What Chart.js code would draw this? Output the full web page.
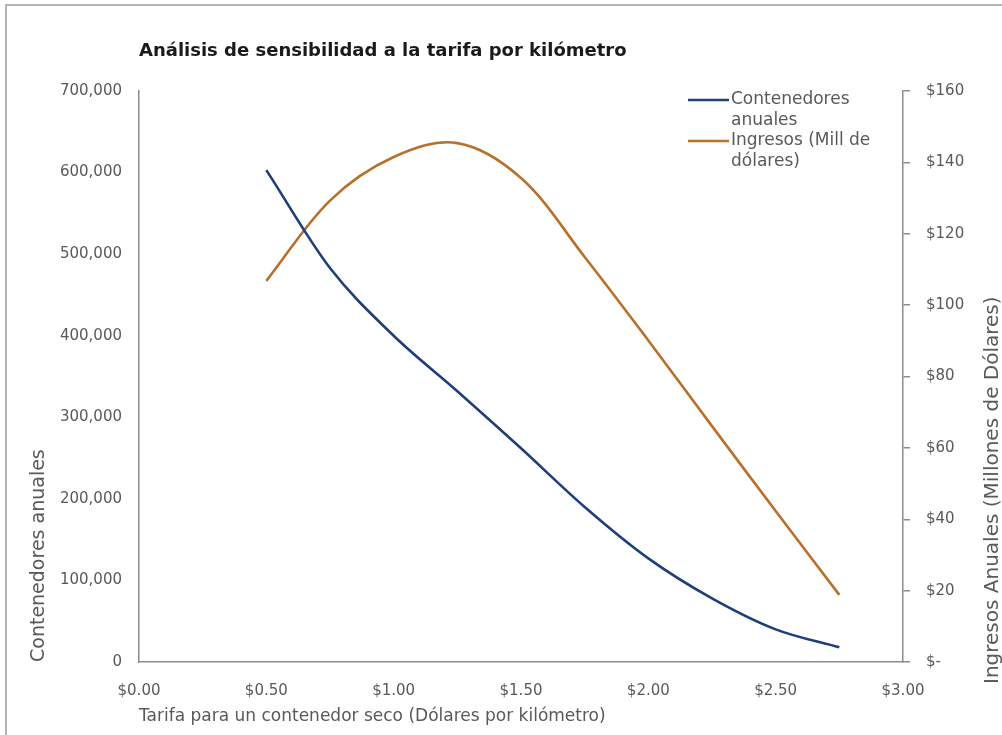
<!DOCTYPE html>
<html>
<head>
<meta charset="utf-8">
<script src="https://cdn.jsdelivr.net/npm/chart.js@4.4.1/dist/chart.umd.min.js"></script>
<style>
  html, body { margin: 0; padding: 0; background: #fff; overflow: hidden; }
  #wrap { position: relative; width: 1002px; height: 735px; overflow: hidden; }
  #frameTop { position: absolute; left: 5px; top: 4px; width: 997px; height: 2px; background: #b4b4b4; }
  #frameLeft { position: absolute; left: 5px; top: 4px; width: 2px; height: 731px; background: #b4b4b4; }
  #chart { position: absolute; left: 0; top: 0; }
</style>
</head>
<body>
<div id="wrap">
  <div id="frameTop"></div>
  <div id="frameLeft"></div>
  <canvas id="chart" width="1002" height="735"></canvas>
</div>
<script>
// Sensitivity of annual containers and revenue to the per-km fare

const tarifas = [0.5, 0.75, 1.0, 1.25, 1.5, 1.75, 2.0, 2.25, 2.5, 2.75];
const contenedores = [603000, 483000, 400000, 332000, 262000, 190000, 127000, 78000, 40000, 18000];
const ingresos = [106.8, 129.3, 141.5, 145.4, 135.6, 113.5, 90.1, 66.1, 42.3, 18.8];

const seriesNames = [['Contenedores', 'anuales'], ['Ingresos (Mill de', 'dólares)']];
const xTicks = [0, 0.5, 1, 1.5, 2, 2.5, 3];

const BLUE = '#1f3f7a';
const ORANGE = '#b8702a';
const AXIS = '#8c8c8c';
const TEXT = '#595959';
const FONT = 'DejaVu Sans';

// legend + right-hand axis title (reads bottom to top, like the original)
const extras = {
    id: 'extras',
    afterDraw(chart) {
        const ctx = chart.ctx;
        ctx.save();
        ctx.font = '17px "' + FONT + '"';
        ctx.fillStyle = TEXT;
        ctx.textBaseline = 'middle';
        const colors = [BLUE, ORANGE];
        seriesNames.forEach((lines, i) => {
            const y = 100 + i * 41;
            ctx.strokeStyle = colors[i];
            ctx.lineWidth = 2.5;
            ctx.beginPath();
            ctx.moveTo(688, y);
            ctx.lineTo(729, y);
            ctx.stroke();
            lines.forEach((t, j) => ctx.fillText(t, 731, y + j * 20.5));
        });

        ctx.font = '20px "' + FONT + '"';
        ctx.translate(993, 684);
        ctx.rotate(-Math.PI / 2);
        ctx.textAlign = 'left';
        ctx.fillText('Ingresos Anuales (Millones de Dólares)', 0, 0);
        ctx.restore();
    }
};

const ctx = document.getElementById('chart').getContext('2d');
new Chart(ctx, {
    type: 'line',
    data: {
        datasets: [
            {
                label: seriesNames[0].join(' '),
                data: tarifas.map((x, i) => ({ x: x, y: contenedores[i] })),
                borderColor: BLUE,
                borderWidth: 2.6,
                pointRadius: 0,
                cubicInterpolationMode: 'monotone',
                yAxisID: 'y'
            },
            {
                label: seriesNames[1].join(' '),
                data: tarifas.map((x, i) => ({ x: x, y: ingresos[i] })),
                borderColor: ORANGE,
                borderWidth: 2.6,
                pointRadius: 0,
                tension: 0.35,
                yAxisID: 'y2'
            }
        ]
    },
    options: {
        responsive: false,
        animation: false,
        layout: { padding: 0 },
        plugins: {
            legend: { display: false },
            tooltip: { enabled: false },
            title: {
                display: true,
                text: 'Análisis de sensibilidad a la tarifa por kilómetro',
                align: 'start',
                fullSize: false,
                color: '#1a1a1a',
                font: { family: FONT, size: 18, weight: 'bold' },
                padding: { top: 41, bottom: 28.4 }
            }
        },
        scales: {
            x: {
                type: 'linear',
                min: 0,
                max: 3,
                afterBuildTicks: s => { s.ticks = xTicks.map(v => ({ value: v })); },
                afterFit: s => { s.height = 73; },
                border: { display: true, color: AXIS, width: 1.5 },
                grid: { display: false },
                ticks: {
                    color: TEXT,
                    font: { family: FONT, size: 15 },
                    padding: 12,
                    maxRotation: 0,
                    callback: v => '$' + v.toFixed(2)
                },
                title: {
                    display: true,
                    text: 'Tarifa para un contenedor seco (Dólares por kilómetro)',
                    align: 'start',
                    color: TEXT,
                    font: { family: FONT, size: 17 },
                    padding: { top: 0, bottom: 7.8 }
                }
            },
            y: {
                position: 'left',
                min: 0,
                max: 700000,
                afterFit: s => { s.width = 139; },
                border: { display: true, color: AXIS, width: 1.5 },
                grid: { display: false, drawTicks: false },
                ticks: {
                    stepSize: 100000,
                    color: TEXT,
                    font: { family: FONT, size: 15 },
                    padding: 17,
                    callback: v => v.toLocaleString('en-US')
                },
                title: {
                    display: true,
                    text: 'Contenedores anuales',
                    align: 'start',
                    color: TEXT,
                    font: { family: FONT, size: 19 },
                    padding: { top: 28, bottom: 0 }
                }
            },
            y2: {
                position: 'right',
                min: 0,
                max: 160,
                afterFit: s => { s.width = 99; },
                border: { display: true, color: AXIS, width: 1.5 },
                grid: { display: true, drawOnChartArea: false, drawTicks: true, tickLength: 7, color: AXIS, lineWidth: 1.5 },
                ticks: {
                    stepSize: 20,
                    color: TEXT,
                    font: { family: FONT, size: 15 },
                    padding: 16,
                    callback: v => v === 0 ? '$-' : '$' + v
                }
            }
        }
    },
    plugins: [extras]
});
</script>
</body>
</html>
